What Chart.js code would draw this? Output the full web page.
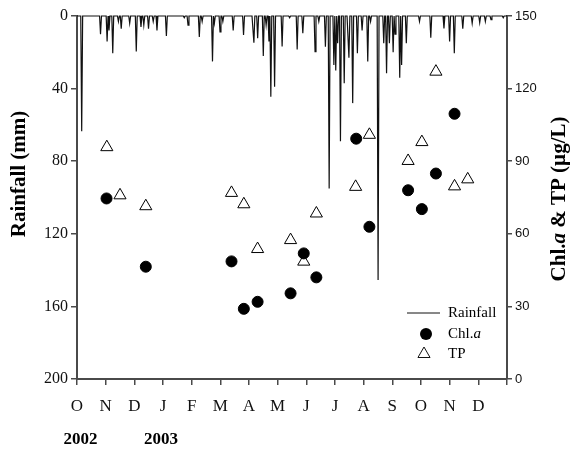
<!DOCTYPE html>
<html>
<head>
<meta charset="utf-8">
<script src="https://cdn.jsdelivr.net/npm/chart.js@4.4.0/dist/chart.umd.min.js"></script>
<style>
  body { margin: 0; background: #fff; }
  canvas { display: block; }
</style>
</head>
<body>
<canvas id="chart" width="573" height="452"></canvas>
<script>
// month letters Oct 2002 - Dec 2003
const monthLabels = ['O', 'N', 'D', 'J', 'F', 'M', 'A', 'M', 'J', 'J', 'A', 'S', 'O', 'N', 'D'];
const yearLabels = ['2002', '2003'];
const rainTicks = [0, 40, 80, 120, 160, 200];
const concTicks = [0, 30, 60, 90, 120, 150];

// daily rainfall, days counted from 1 Oct 2002 (days not listed = no rain)
const rainDay = [5, 25, 32, 34, 38, 44, 47, 56, 63, 68, 71, 76, 81, 85, 95, 114, 118, 130, 133, 144,
  146, 152, 155, 166, 177, 188, 192, 198, 201, 204, 206, 210, 218, 226, 234, 240, 253, 257, 264, 268,
  273, 275, 277, 280, 284, 289, 293, 298, 303, 309, 312, 320, 326, 329, 332, 336, 338, 343, 345, 350,
  364, 376, 390, 396, 401, 410, 420, 428, 434, 440, 453];
const rainMm = [63.5, 10, 14, 8, 20.5, 3, 7, 4, 19.6, 6, 5, 7, 3, 8, 11, 1, 5, 11.5, 3, 25,
  4, 8.7, 3, 8, 10.5, 14.7, 12.3, 22, 5, 14, 44.5, 39, 16.8, 1, 18.5, 9.5, 19.6, 3, 17, 95,
  27, 30, 15, 69, 37, 23, 48, 20.5, 8, 25, 3, 145.5, 15, 31.6, 15, 20, 10, 34, 27, 15,
  3, 12, 6.8, 14, 20.5, 7, 4, 3.7, 3, 2, 1];
const totalDays = 457;

// Chl.a sampling (position in months from 1 Oct 2002) and value, ug/L
const chlMonth = [1.03, 2.40, 5.39, 5.82, 6.30, 7.45, 7.91, 8.35, 9.74, 10.20, 11.55, 12.03, 12.52, 13.17];
const chlVal = [74.6, 46.4, 48.6, 29.0, 31.9, 35.4, 51.9, 42.0, 99.3, 62.9, 78.0, 70.2, 84.9, 109.6];

// TP sampling and value, ug/L
const tpMonth = [1.04, 1.50, 2.40, 5.39, 5.82, 6.30, 7.45, 7.91, 8.35, 9.72, 10.20, 11.55, 12.03, 12.52, 13.17, 13.63];
const tpVal = [95.8, 75.9, 71.4, 76.9, 72.2, 53.7, 57.4, 48.5, 68.4, 79.4, 100.9, 90.1, 97.9, 127.0, 79.6, 82.5];

const serif = "'Liberation Serif', 'Times New Roman', serif";
const sans = "'Liberation Sans', Arial, sans-serif";
const axisColor = '#4a4a4a';

const rainPoints = [];
for (let d = 0; d <= totalDays; d++) {
    const i = rainDay.indexOf(d);
    rainPoints.push({ x: d * 15 / totalDays, y: i >= 0 ? rainMm[i] : 0 });
}

// draws text made of plain / italic parts, centred on (x, y), rotated
function richText(ctx, parts, x, y, size, angle) {
    ctx.save();
    ctx.translate(x, y);
    ctx.rotate(angle);
    ctx.textBaseline = 'middle';
    ctx.textAlign = 'left';
    let total = 0;
    parts.forEach(p => {
        ctx.font = (p.italic ? 'italic ' : '') + 'bold ' + size + 'px ' + serif;
        total += ctx.measureText(p.text).width;
    });
    let cx = -total / 2;
    parts.forEach(p => {
        ctx.font = (p.italic ? 'italic ' : '') + 'bold ' + size + 'px ' + serif;
        ctx.fillText(p.text, cx, 0);
        cx += ctx.measureText(p.text).width;
    });
    ctx.restore();
}

const extras = {
    id: 'extras',
    afterDraw(chart) {
        const ctx = chart.ctx;
        const xs = chart.scales.x;
        ctx.fillStyle = '#000';

        // axis titles
        richText(ctx, [{ text: 'Rainfall (mm)' }], 20, 174, 21, -Math.PI / 2);
        richText(ctx, [{ text: 'Chl.' }, { text: 'a', italic: true }, { text: ' & TP (\u00b5g/L)' }], 560, 199, 21, -Math.PI / 2);

        // years under the month letters
        ctx.font = 'bold 17px ' + serif;
        ctx.textAlign = 'center';
        ctx.textBaseline = 'middle';
        ctx.fillText(yearLabels[0], xs.getPixelForValue(0.12), 440);
        ctx.fillText(yearLabels[1], xs.getPixelForValue(2.93), 440);

        // legend
        const lx = 407, ty = 313;
        ctx.strokeStyle = '#111';
        ctx.lineWidth = 1;
        ctx.beginPath();
        ctx.moveTo(lx, ty);
        ctx.lineTo(lx + 33, ty);
        ctx.stroke();
        ctx.beginPath();
        ctx.arc(426, 334, 6, 0, Math.PI * 2);
        ctx.fill();
        const r = 7;
        ctx.beginPath();
        ctx.moveTo(424, 354 - r);
        ctx.lineTo(424 + r * Math.sin(2 * Math.PI / 3), 354 + r / 2);
        ctx.lineTo(424 - r * Math.sin(2 * Math.PI / 3), 354 + r / 2);
        ctx.closePath();
        ctx.fillStyle = '#fff';
        ctx.fill();
        ctx.stroke();
        ctx.fillStyle = '#000';
        ctx.textAlign = 'left';
        ctx.font = '15px ' + serif;
        ctx.fillText('Rainfall', 448, ty);
        ctx.fillText('Chl.', 448, 334);
        const w = ctx.measureText('Chl.').width;
        ctx.font = 'italic 15px ' + serif;
        ctx.fillText('a', 448 + w, 334);
        ctx.font = '15px ' + serif;
        ctx.fillText('TP', 448, 354);
    }
};

new Chart(document.getElementById('chart'), {
    data: {
        datasets: [
            {
                type: 'line',
                label: 'Rainfall',
                data: rainPoints,
                yAxisID: 'y',
                borderColor: '#111',
                borderWidth: 1.2,
                pointRadius: 0,
                tension: 0,
                clip: 3
            },
            {
                type: 'scatter',
                label: 'Chl.a',
                data: chlMonth.map((m, i) => ({ x: m, y: chlVal[i] })),
                yAxisID: 'y2',
                pointStyle: 'circle',
                pointRadius: 5.5,
                pointBorderWidth: 1,
                borderColor: '#000',
                backgroundColor: '#000'
            },
            {
                type: 'scatter',
                label: 'TP',
                data: tpMonth.map((m, i) => ({ x: m, y: tpVal[i] })),
                yAxisID: 'y2',
                pointStyle: 'triangle',
                pointRadius: 7,
                pointBorderWidth: 1,
                borderColor: '#000',
                backgroundColor: '#fff'
            }
        ]
    },
    options: {
        responsive: false,
        animation: false,
        events: [],
        layout: { padding: { top: 16 } },
        plugins: { legend: { display: false }, tooltip: { enabled: false } },
        scales: {
            x: {
                type: 'linear',
                min: 0,
                max: 15,
                afterBuildTicks: s => { s.ticks = monthLabels.map((m, i) => ({ value: i })).concat([{ value: 15 }]); },
                afterFit: s => { s.height = 73; },
                ticks: {
                    callback: v => monthLabels[v] || '',
                    font: { family: serif, size: 17 },
                    color: '#111',
                    padding: 11,
                    maxRotation: 0,
                    autoSkip: false
                },
                grid: { drawOnChartArea: false, tickLength: 6, color: axisColor, lineWidth: 1.5 },
                border: { color: axisColor, width: 2 }
            },
            y: {
                position: 'left',
                reverse: true,
                min: 0,
                max: 200,
                afterBuildTicks: s => { s.ticks = rainTicks.map(v => ({ value: v })); },
                afterFit: s => { s.width = 77; },
                ticks: { font: { family: serif, size: 16 }, color: '#111', padding: 3 },
                grid: { drawOnChartArea: false, tickLength: 6, color: axisColor, lineWidth: 1.5 },
                border: { color: axisColor, width: 2 }
            },
            y2: {
                position: 'right',
                min: 0,
                max: 150,
                afterBuildTicks: s => { s.ticks = concTicks.map(v => ({ value: v })); },
                afterFit: s => { s.width = 66; },
                ticks: { font: { family: sans, size: 13 }, color: '#111', padding: 3 },
                grid: { drawOnChartArea: false, tickLength: 5, color: axisColor, lineWidth: 1.5 },
                border: { color: axisColor, width: 2 }
            }
        }
    },
    plugins: [extras]
});
</script>
</body>
</html>
